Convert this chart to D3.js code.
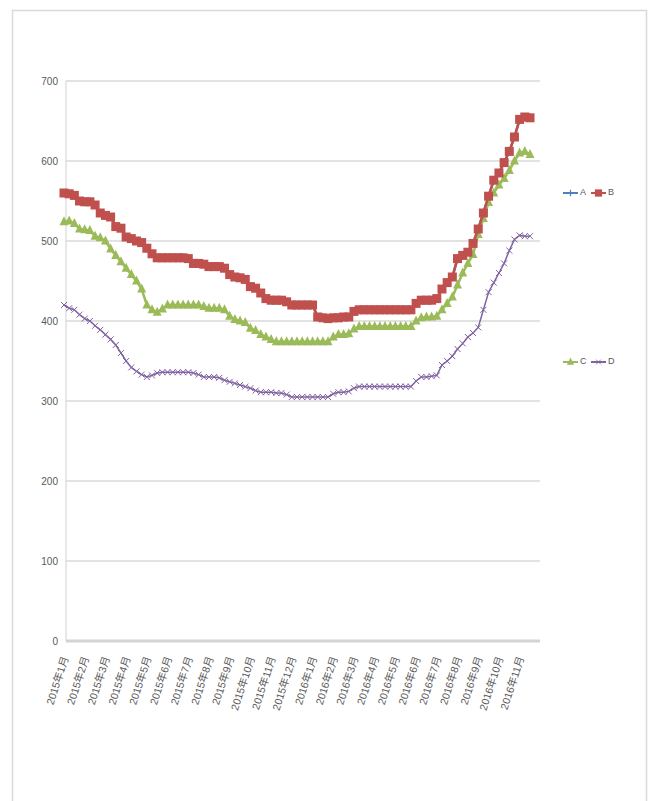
<!DOCTYPE html>
<html><head><meta charset="utf-8">
<script src="https://cdn.jsdelivr.net/npm/d3@7"></script>
<style>body{margin:0;background:#fff;} text{font-family:"Liberation Sans","Noto Sans CJK SC",sans-serif;}</style>
</head><body>
<svg id="chart" width="650" height="801"></svg>
<script>
const monthLabels = ["2015年1月","2015年2月","2015年3月","2015年4月","2015年5月","2015年6月","2015年7月","2015年8月","2015年9月","2015年10月","2015年11月","2015年12月","2016年1月","2016年2月","2016年3月","2016年4月","2016年5月","2016年6月","2016年7月","2016年8月","2016年9月","2016年10月","2016年11月"];
const yTicks = [0,100,200,300,400,500,600,700];
const seriesNames = ["A","B","C","D"];
const seriesA = [560,559,557,550,549,549,545,535,532,530,518,516,505,503,500,498,491,484,479,479,479,479,479,479,478,472,472,471,468,468,468,466,458,455,454,452,443,441,435,428,426,426,426,424,420,420,420,420,420,405,404,403,404,404,405,405,412,414,414,414,414,414,414,414,414,414,414,414,422,426,426,426,428,440,448,455,478,482,486,497,515,535,556,576,585,598,612,630,652,655,654];
const seriesB = [560,559,557,550,549,549,545,535,532,530,518,516,505,503,500,498,491,484,479,479,479,479,479,479,478,472,472,471,468,468,468,466,458,455,454,452,443,441,435,428,426,426,426,424,420,420,420,420,420,405,404,403,404,404,405,405,412,414,414,414,414,414,414,414,414,414,414,414,422,426,426,426,428,440,448,455,478,482,486,497,515,535,556,576,585,598,612,630,652,655,654];
const seriesC = [524,525,522,515,514,513,506,504,500,490,482,474,466,458,450,440,420,414,411,415,420,420,420,420,420,420,420,418,416,416,416,414,406,402,400,398,391,388,383,380,377,374,374,374,374,374,374,374,374,374,374,374,380,383,383,384,390,393,393,393,393,393,393,393,393,393,393,393,400,404,405,405,406,414,422,430,445,460,472,483,508,528,548,560,570,578,588,600,610,612,608];
const seriesD = [420,416,414,408,403,400,394,389,383,377,370,360,350,342,337,333,330,332,335,336,336,336,336,336,336,335,333,330,330,330,329,326,324,322,320,318,316,313,311,311,311,310,310,308,305,305,305,305,305,305,305,305,309,311,311,312,316,318,318,318,318,318,318,318,318,318,318,318,325,330,330,331,332,345,350,356,365,372,380,385,392,414,436,448,460,472,488,502,507,506,506];
const colors = {A:"#4f81bd",B:"#c0504d",C:"#9bbb59",D:"#8064a2"};

const svg = d3.select("#chart");
svg.append("rect").attr("width",650).attr("height",801).attr("fill","#fff");
svg.append("rect").attr("x",12.5).attr("y",10.5).attr("width",634).attr("height",800)
  .attr("fill","none").attr("stroke","#d9d9d9").attr("stroke-width",1.5);

const n = seriesB.length;
const x = d3.scaleLinear().domain([0,n-1]).range([64,530]);
const y = d3.scaleLinear().domain([0,700]).range([641,81]);

svg.append("g").selectAll("line").data(yTicks.filter(d=>d>0)).join("line")
  .attr("x1",66).attr("x2",540).attr("y1",d=>y(d)).attr("y2",d=>y(d))
  .attr("stroke","#d9d9d9").attr("stroke-width",1.5);
svg.append("line").attr("x1",66).attr("x2",66).attr("y1",y(700)).attr("y2",y(0))
  .attr("stroke","#d9d9d9").attr("stroke-width",1.2);
svg.append("line").attr("x1",66).attr("x2",540).attr("y1",y(0)).attr("y2",y(0))
  .attr("stroke","#d4d4d4").attr("stroke-width",3);

const yAxis = d3.axisLeft(y).tickValues(yTicks).tickSize(0).tickPadding(0).tickFormat(d3.format("d"));
const yg = svg.append("g").attr("transform","translate(58,0)").call(yAxis);
yg.select(".domain").remove();
yg.selectAll("text").attr("font-size",10).attr("fill","#595959")
  .attr("font-family","Liberation Sans");

const labelIdx = monthLabels.map((d,i)=>i*4);
svg.append("g").selectAll("text").data(monthLabels).join("text")
  .attr("transform",(d,i)=>`translate(${x(labelIdx[i])+2},657) rotate(-72)`)
  .attr("text-anchor","end").attr("dominant-baseline","middle")
  .attr("font-size",10.5).attr("fill","#595959")
  .attr("font-family","Noto Sans CJK SC")
  .text(d=>d);

const line = d3.line().x((d,i)=>x(i)).y(d=>y(d));

function drawSeries(data, key, marker){
  const g = svg.append("g");
  g.append("path").datum(data).attr("d",line).attr("fill","none")
    .attr("stroke",colors[key]).attr("stroke-width",key==="D"?1.5:2.5);
  const m = g.selectAll("g.m").data(data).join("g")
    .attr("transform",(d,i)=>`translate(${x(i)},${y(d)})`);
  marker(m, colors[key]);
}
const plus = (s,c)=>{ s.append("path").attr("d","M-4,0H4M0,-4V4").attr("stroke",c).attr("stroke-width",1.5); };
const square = (s,c)=>{ s.append("rect").attr("x",-4.5).attr("y",-4.5).attr("width",9).attr("height",9).attr("fill",c); };
const tri = (s,c)=>{ s.append("path").attr("d","M0,-5.5L4.5,3.5L-4.5,3.5Z").attr("fill",c); };
const cross = (s,c)=>{ s.append("path").attr("d","M-3,-3L3,3M-3,3L3,-3").attr("stroke",c).attr("stroke-width",1); };

drawSeries(seriesA,"A",plus);
drawSeries(seriesD,"D",cross);
drawSeries(seriesC,"C",tri);
drawSeries(seriesB,"B",square);

const legend = [
  {k:"A",x:563,y:193,m:plus},{k:"B",x:591,y:193,m:square},
  {k:"C",x:563,y:362,m:tri},{k:"D",x:591,y:362,m:cross}
];
legend.forEach(l=>{
  const g = svg.append("g");
  g.append("line").attr("x1",l.x).attr("x2",l.x+15).attr("y1",l.y).attr("y2",l.y)
    .attr("stroke",colors[l.k]).attr("stroke-width",2);
  const mg = g.append("g").attr("transform",`translate(${l.x+7.5},${l.y}) scale(0.8)`);
  l.m(mg, colors[l.k]);
  g.append("text").attr("x",l.x+17).attr("y",l.y).attr("dominant-baseline","middle")
    .attr("font-size",9).attr("fill","#595959").text(seriesNames[seriesNames.indexOf(l.k)]);
});
</script>
</body></html>
